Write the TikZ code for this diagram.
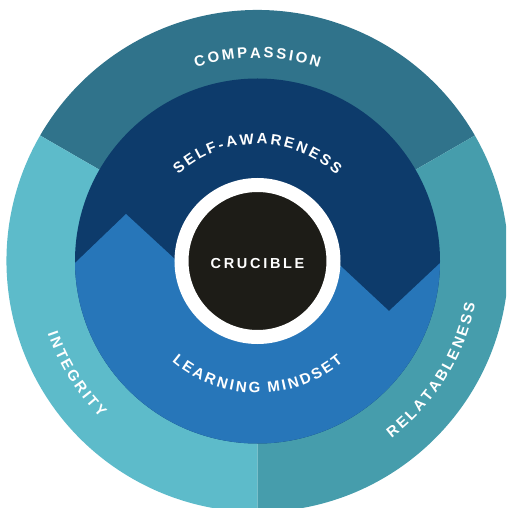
\documentclass[tikz,border=0pt]{standalone}
\usepackage{fontspec}
\setmainfont{Liberation Sans}
\newfontfamily\trackedfont{Liberation Sans}[WordSpace=0.6]
\usetikzlibrary{decorations.text}
\definecolor{compassion}{HTML}{30738B}
\definecolor{integrity}{HTML}{5DBBCA}
\definecolor{relatable}{HTML}{469DAC}
\definecolor{selfaware}{HTML}{0D3B6B}
\definecolor{learning}{HTML}{2776B9}
\definecolor{crucible}{HTML}{1D1C17}
\newcommand{\ringfont}{\trackedfont\bfseries\fontsize{15}{15}\selectfont}
\begin{document}
\begin{tikzpicture}[x=1pt,y=1pt,
  ringtext/.style={decorate,decoration={text along path,text align=center,text color=white,text={#1}}}]
\useasboundingbox (-257.5,-247) rectangle (248.5,261);
\clip (-257.5,-247) rectangle (248.5,261);
% outer ring
\fill [compassion] (0,0) -- (30:251) arc [start angle=30,end angle=150,radius=251] -- cycle;
\fill [integrity] (0,0) -- (150:251) arc [start angle=150,end angle=270,radius=251] -- cycle;
\fill [relatable] (0,0) -- (270:251) arc [start angle=270,end angle=390,radius=251] -- cycle;
% inner disc with the zigzag
\fill [selfaware] (0,0) circle [radius=182.5];
\begin{scope}
\clip (0,0) circle [radius=182.5];
\fill [learning] (-257.5,-247) -- (-257.5,-74) -- (-131.5,47) -- (-42.5,-35)
           -- (42.5,33) -- (131.5,-50) -- (248.5,60) -- (248.5,-247) -- cycle;
\end{scope}
\node (crucible) [circle,fill=crucible,draw=white,line width=14pt,minimum size=152pt,inner sep=0pt,
  text=white,text height=14.5pt,font=\fontsize{14.5}{14.5}\selectfont\bfseries] at (0,0) {\spaceskip=2.7pt C R U C I B L E};
% labels
\path [ringtext={|\ringfont|C O M P A S S I O N}] (160:203) arc [start angle=160,end angle=20,radius=203];
\path [ringtext={|\ringfont|S E L F - A W A R E N E S S}] (170:117) arc [start angle=170,end angle=10,radius=117];
\path [ringtext={|\ringfont|L E A R N I N G{\kern8pt}M I N D S E T}] (190:132) arc [start angle=190,end angle=350,radius=132];
\path [ringtext={|\ringfont|I N T E G R I T Y}] (162:222) arc [start angle=162,end angle=262,radius=222];
\path [ringtext={|\ringfont|R E L A T A B L E N E S S}] (278:222) arc [start angle=278,end angle=378,radius=222];
\end{tikzpicture}
\end{document}
